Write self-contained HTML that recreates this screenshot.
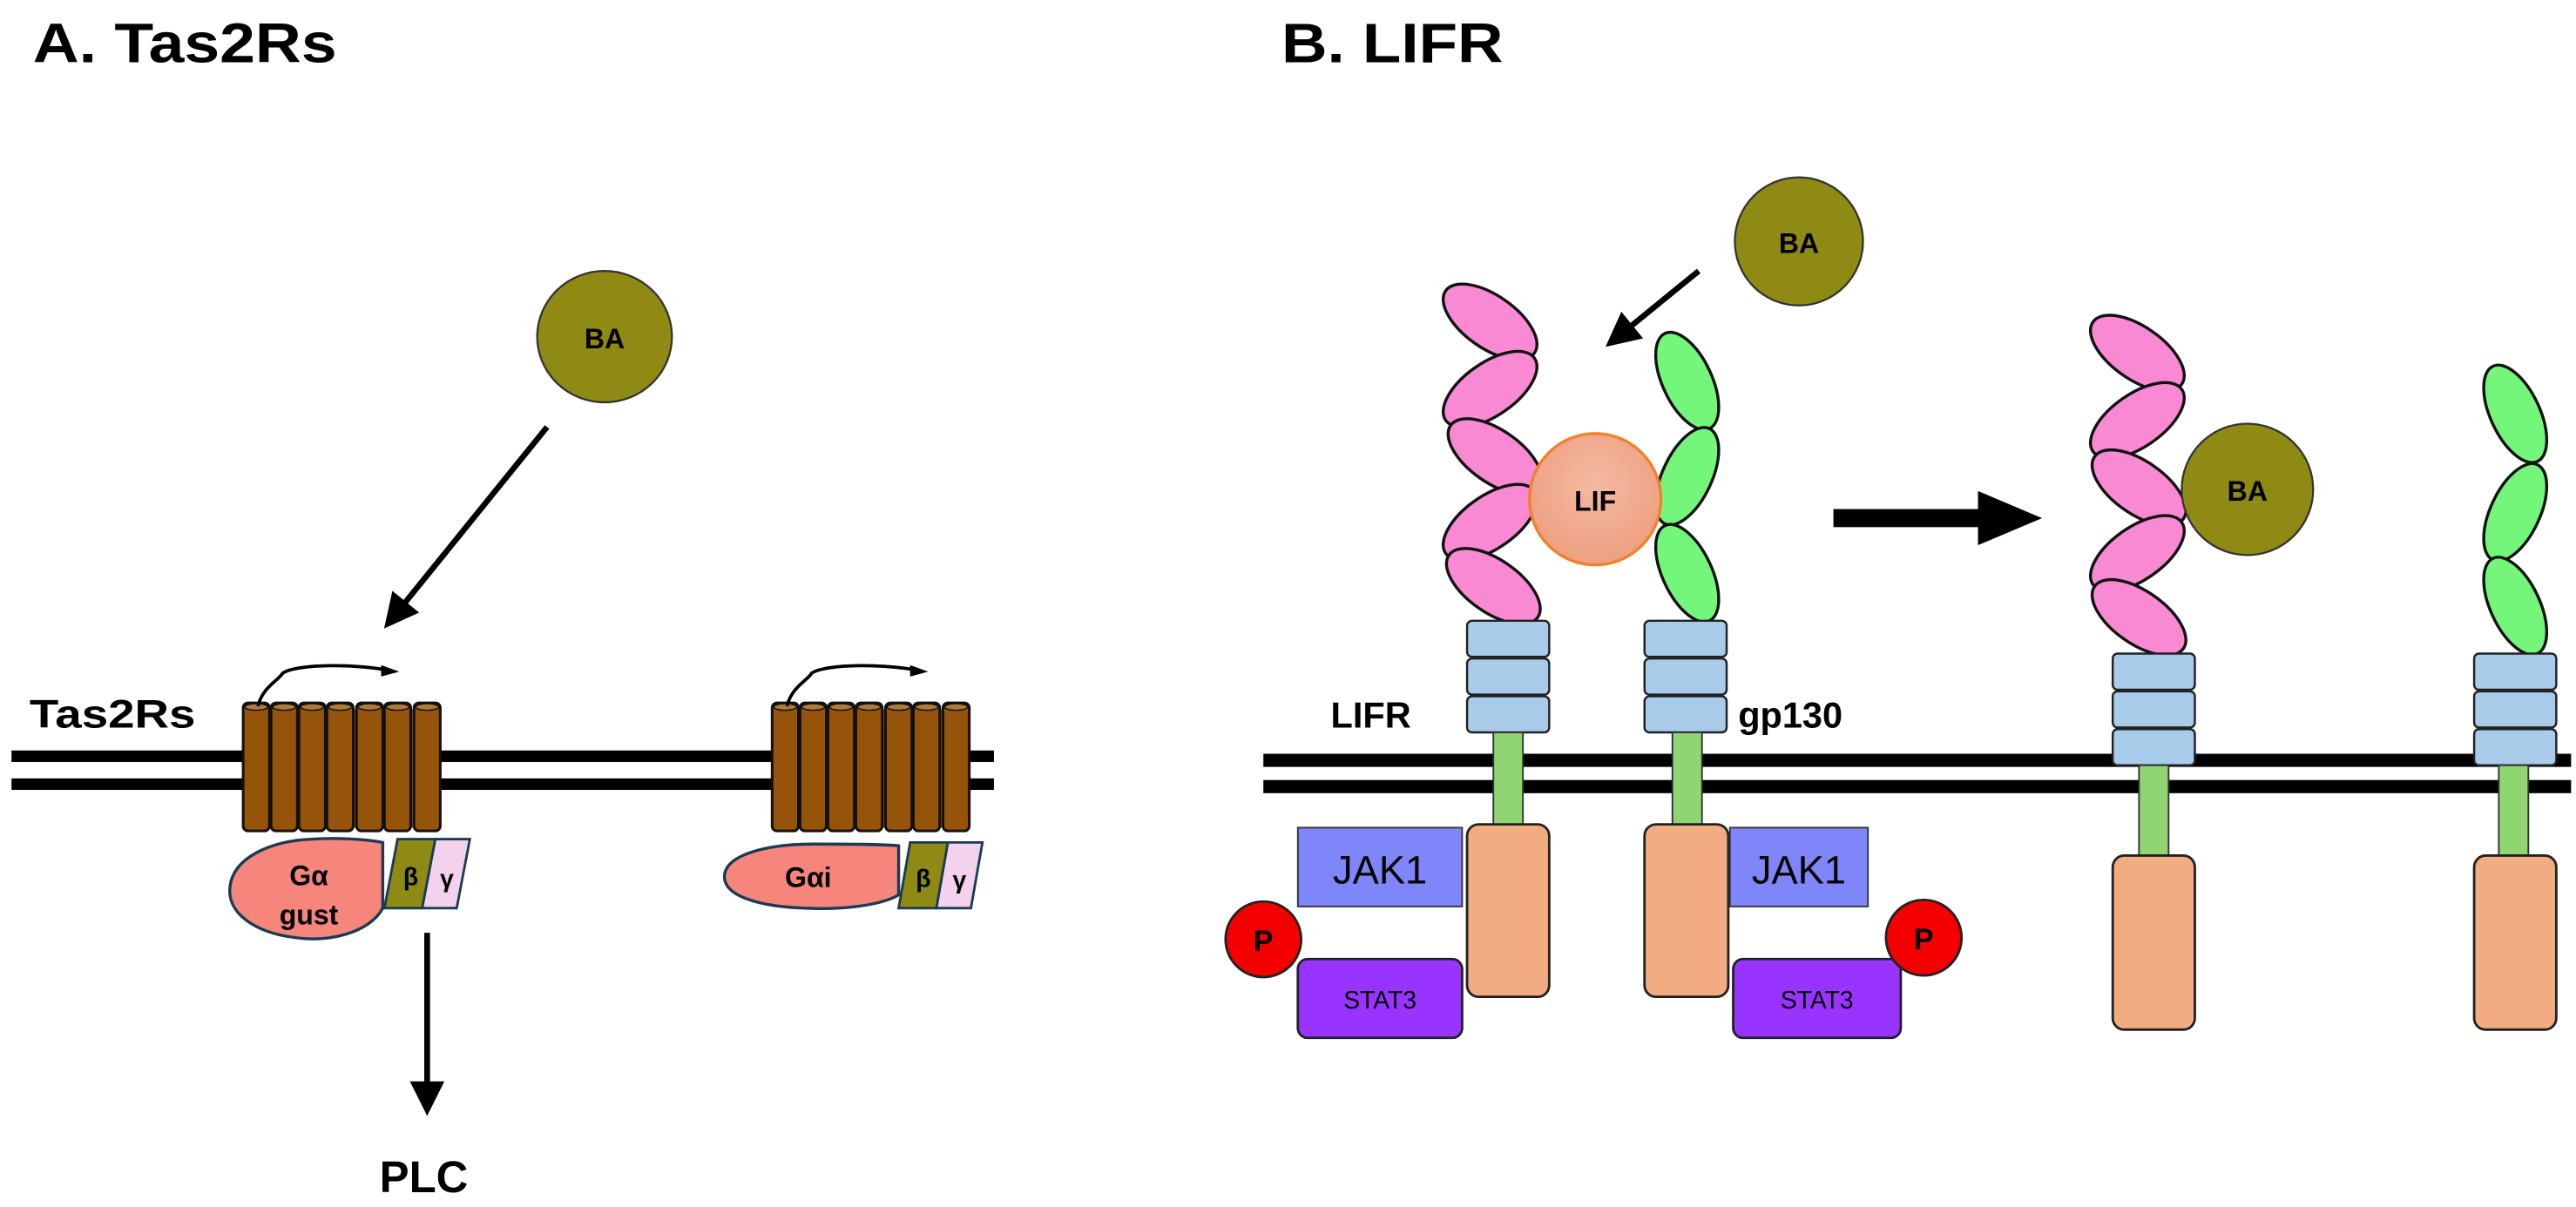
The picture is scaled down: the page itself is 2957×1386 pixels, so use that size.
<!DOCTYPE html>
<html><head><meta charset="utf-8"><style>html,body{margin:0;padding:0;background:#fff}svg{display:block}</style></head>
<body>
<svg width="2957" height="1386" viewBox="0 0 1568 735" preserveAspectRatio="none" xmlns="http://www.w3.org/2000/svg" font-family="Liberation Sans, Arial, sans-serif">
<defs>
<marker id="ah" markerWidth="6" markerHeight="6" refX="5" refY="3" orient="auto" markerUnits="strokeWidth"><path d="M0,0 L6,3 L0,6 z" fill="#000"/></marker>
<radialGradient id="lif" cx="0.5" cy="0.4" r="0.6"><stop offset="0" stop-color="#F4B9A2"/><stop offset="1" stop-color="#EE9F80"/></radialGradient>
<g id="cyl">
<rect x="0" y="0" width="16" height="78" rx="3" fill="#95540A" stroke="#111" stroke-width="1.6"/>
<ellipse cx="8" cy="2.5" rx="7" ry="2" fill="#B07A3A" stroke="#111" stroke-width="0.8"/>
</g>
<g id="blocks">
<rect x="0" y="0" width="50" height="22" rx="3" fill="#A9CBEA" stroke="#222" stroke-width="1.3"/>
<rect x="0" y="23" width="50" height="22" rx="3" fill="#A9CBEA" stroke="#222" stroke-width="1.3"/>
<rect x="0" y="46" width="50" height="22" rx="3" fill="#A9CBEA" stroke="#222" stroke-width="1.3"/>
</g>
</defs>
<rect width="1568" height="735" fill="#fff"/>

<text x="20" y="38" font-size="34" font-weight="bold" textLength="185" lengthAdjust="spacingAndGlyphs">A. Tas2Rs</text>
<text x="780" y="38" font-size="34" font-weight="bold" textLength="135" lengthAdjust="spacingAndGlyphs">B. LIFR</text>

<rect x="7" y="457" width="598" height="7" fill="#000"/>
<rect x="7" y="474" width="598" height="7" fill="#000"/>
<text x="18" y="443" font-size="24" font-weight="bold" textLength="101" lengthAdjust="spacingAndGlyphs">Tas2Rs</text>

<ellipse cx="368" cy="205" rx="41" ry="40" fill="#8E8A13" stroke="#333" stroke-width="1.2"/>
<text x="368" y="212" font-size="17" font-weight="bold" text-anchor="middle">BA</text>
<line x1="333" y1="260" x2="236" y2="380" stroke="#000" stroke-width="3.5" marker-end="url(#ah)"/>

<rect x="150" y="432" width="116" height="72" fill="#95540A"/>
<g transform="translate(148,428)">
<use href="#cyl" x="0"/><use href="#cyl" x="17"/><use href="#cyl" x="34"/><use href="#cyl" x="51"/><use href="#cyl" x="69"/><use href="#cyl" x="86"/><use href="#cyl" x="104"/>
</g>
<path d="M157,430 C160,418 170,414 172,410 C180,404 220,404 240,409" fill="none" stroke="#000" stroke-width="2"/>
<path d="M232,405 L243,409 L232,412 z" fill="#000"/>
<path d="M233,513 L233,553 C225,568 200,574 180,571 C155,568 138,556 140,540 C142,522 165,512 190,511 C205,510 222,511 233,513 z" fill="#F6857B" stroke="#1B3A55" stroke-width="1.8"/>
<text x="188" y="539" font-size="17" font-weight="bold" text-anchor="middle">Gα</text>
<text x="188" y="563" font-size="17" font-weight="bold" text-anchor="middle">gust</text>
<path d="M242,511 L265,511 L257,553 L234,553 z" fill="#8E8A13" stroke="#1B3A55" stroke-width="1.5"/>
<path d="M265,511 L286,511 L278,553 L257,553 z" fill="#F3D2EE" stroke="#1B3A55" stroke-width="1.5"/>
<text x="250" y="539" font-size="15" font-weight="bold" text-anchor="middle">β</text>
<text x="272" y="540" font-size="15" font-weight="bold" text-anchor="middle">γ</text>
<line x1="260" y1="568" x2="260" y2="676" stroke="#000" stroke-width="3.5" marker-end="url(#ah)"/>
<text x="258" y="726" font-size="27" font-weight="bold" text-anchor="middle">PLC</text>

<rect x="472" y="432" width="116" height="72" fill="#95540A"/>
<g transform="translate(470,428)">
<use href="#cyl" x="0"/><use href="#cyl" x="17"/><use href="#cyl" x="34"/><use href="#cyl" x="51"/><use href="#cyl" x="69"/><use href="#cyl" x="86"/><use href="#cyl" x="104"/>
</g>
<path d="M479,430 C482,418 492,414 494,410 C502,404 542,404 562,409" fill="none" stroke="#000" stroke-width="2"/>
<path d="M554,405 L565,409 L554,412 z" fill="#000"/>
<path d="M547,515 L547,545 C535,552 510,554 490,553 C460,552 440,545 441,533 C442,521 465,514 495,514 C515,514 535,514 547,515 z" fill="#F6857B" stroke="#1B3A55" stroke-width="1.8"/>
<text x="492" y="540" font-size="17" font-weight="bold" text-anchor="middle">Gαi</text>
<path d="M554,513 L577,513 L570,553 L547,553 z" fill="#8E8A13" stroke="#1B3A55" stroke-width="1.5"/>
<path d="M577,513 L598,513 L591,553 L570,553 z" fill="#F3D2EE" stroke="#1B3A55" stroke-width="1.5"/>
<text x="562" y="540" font-size="15" font-weight="bold" text-anchor="middle">β</text>
<text x="584" y="541" font-size="15" font-weight="bold" text-anchor="middle">γ</text>

<rect x="769" y="459" width="796" height="8" fill="#000"/>
<rect x="769" y="475" width="796" height="8" fill="#000"/>

<ellipse cx="1095" cy="147" rx="39" ry="39" fill="#8E8A13" stroke="#333" stroke-width="1.2"/>
<text x="1095" y="154" font-size="17" font-weight="bold" text-anchor="middle">BA</text>
<line x1="1034" y1="165" x2="980" y2="209" stroke="#000" stroke-width="3.5" marker-end="url(#ah)"/>

<g fill="#F989D3" stroke="#111" stroke-width="1.8">
<ellipse cx="907" cy="196" rx="33" ry="16" transform="rotate(35 907 196)"/>
<ellipse cx="907" cy="237" rx="33" ry="16" transform="rotate(-35 907 237)"/>
<ellipse cx="910" cy="278" rx="33" ry="16" transform="rotate(35 910 278)"/>
<ellipse cx="907" cy="318" rx="33" ry="16" transform="rotate(-35 907 318)"/>
<ellipse cx="909" cy="357" rx="33" ry="16" transform="rotate(35 909 357)"/>
</g>
<g fill="#74F67A" stroke="#111" stroke-width="1.8">
<ellipse cx="1027" cy="232" rx="32" ry="15" transform="rotate(65 1027 232)"/>
<ellipse cx="1027" cy="290" rx="32" ry="15" transform="rotate(-65 1027 290)"/>
<ellipse cx="1027" cy="349" rx="32" ry="15" transform="rotate(65 1027 349)"/>
</g>
<ellipse cx="971" cy="304" rx="40" ry="40" fill="url(#lif)" stroke="#F0822E" stroke-width="1.8"/>
<text x="971" y="311" font-size="17" font-weight="bold" text-anchor="middle">LIF</text>

<use href="#blocks" x="893" y="378"/>
<rect x="909" y="446" width="18" height="58" fill="#8FD672" stroke="#333" stroke-width="1"/>
<rect x="893" y="502" width="50" height="105" rx="7" fill="#F2AC82" stroke="#222" stroke-width="1.5"/>
<text x="810" y="443" font-size="22" font-weight="bold">LIFR</text>
<use href="#blocks" x="1001" y="378"/>
<rect x="1018" y="446" width="18" height="58" fill="#8FD672" stroke="#333" stroke-width="1"/>
<rect x="1001" y="502" width="51" height="105" rx="7" fill="#F2AC82" stroke="#222" stroke-width="1.5"/>
<text x="1058" y="443" font-size="22" font-weight="bold">gp130</text>

<rect x="790" y="504" width="100" height="48" fill="#7F86FA" stroke="#333" stroke-width="1"/>
<text x="840" y="538" font-size="24" text-anchor="middle">JAK1</text>
<rect x="1053" y="504" width="84" height="48" fill="#7F86FA" stroke="#333" stroke-width="1"/>
<text x="1095" y="538" font-size="24" text-anchor="middle">JAK1</text>
<rect x="790" y="584" width="100" height="48" rx="6" fill="#9933FF" stroke="#222" stroke-width="1.5"/>
<text x="840" y="614" font-size="15" text-anchor="middle">STAT3</text>
<rect x="1055" y="584" width="102" height="48" rx="6" fill="#9933FF" stroke="#222" stroke-width="1.5"/>
<text x="1106" y="614" font-size="15" text-anchor="middle">STAT3</text>
<circle cx="769" cy="572" r="23" fill="#F40000" stroke="#222" stroke-width="1.5"/>
<text x="769" y="579" font-size="18" font-weight="bold" text-anchor="middle">P</text>
<circle cx="1171" cy="571" r="23" fill="#F40000" stroke="#222" stroke-width="1.5"/>
<text x="1171" y="578" font-size="18" font-weight="bold" text-anchor="middle">P</text>

<rect x="1116" y="310" width="90" height="11" fill="#000"/>
<path d="M1204,299 L1243,315.5 L1204,332 z" fill="#000"/>

<g fill="#F989D3" stroke="#111" stroke-width="1.8">
<ellipse cx="1301" cy="215" rx="33" ry="16" transform="rotate(35 1301 215)"/>
<ellipse cx="1301" cy="256" rx="33" ry="16" transform="rotate(-35 1301 256)"/>
<ellipse cx="1302" cy="297" rx="33" ry="16" transform="rotate(35 1302 297)"/>
<ellipse cx="1301" cy="337" rx="33" ry="16" transform="rotate(-35 1301 337)"/>
<ellipse cx="1302" cy="376" rx="33" ry="16" transform="rotate(35 1302 376)"/>
</g>
<ellipse cx="1368" cy="298" rx="40" ry="40" fill="#8E8A13" stroke="#333" stroke-width="1.2"/>
<text x="1368" y="305" font-size="17" font-weight="bold" text-anchor="middle">BA</text>
<use href="#blocks" x="1286" y="398"/>
<rect x="1302" y="466" width="18" height="56" fill="#8FD672" stroke="#333" stroke-width="1"/>
<rect x="1286" y="521" width="50" height="106" rx="7" fill="#F2AC82" stroke="#222" stroke-width="1.5"/>

<g fill="#74F67A" stroke="#111" stroke-width="1.8">
<ellipse cx="1531" cy="252" rx="32" ry="15" transform="rotate(65 1531 252)"/>
<ellipse cx="1531" cy="312" rx="32" ry="15" transform="rotate(-65 1531 312)"/>
<ellipse cx="1531" cy="369" rx="32" ry="15" transform="rotate(65 1531 369)"/>
</g>
<use href="#blocks" x="1506" y="398"/>
<rect x="1521" y="466" width="18" height="56" fill="#8FD672" stroke="#333" stroke-width="1"/>
<rect x="1506" y="521" width="50" height="106" rx="7" fill="#F2AC82" stroke="#222" stroke-width="1.5"/>
</svg>
</body></html>
